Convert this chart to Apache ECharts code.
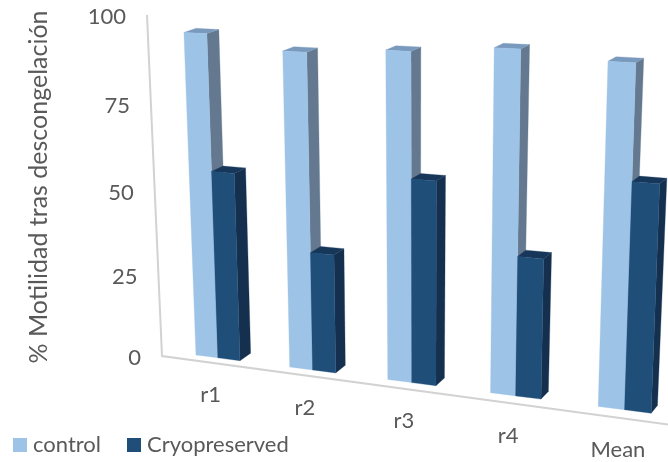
<!DOCTYPE html>
<html>
<head>
<meta charset="utf-8">
<script src="https://cdn.jsdelivr.net/npm/echarts@6/dist/echarts.min.js"></script>
<style>html,body{margin:0;padding:0;background:#fff}#chart{width:668px;height:462px}</style>
</head>
<body>
<div id="chart"></div>
<script>
// Thaw motility per replicate
const categories = ['r1', 'r2', 'r3', 'r4', 'Mean'];
const controlValues = [94.5, 90.8, 92.5, 94.6, 92.6];
const cryoValues = [55.5, 34.6, 58, 39.3, 62];
const valueTicks = [0, 25, 50, 75, 100];

// Flat plotting rectangle used by the axes; its points are then warped into perspective.
const GRID = { left: 162, top: 17, width: 500, height: 340 };
const BAR_FRACTION = 0.2375;
const FONT = 'Lato, "Open Sans", sans-serif';
const TEXT = '#595959';

// Perspective planes, corners ordered (0,0), (1,0), (1,1), (0,1) in flat unit space.
const AXIS_PLANE = [[162, 356], [672, 425], [691, 40], [147, 15]];
const FRONT_PLANE = [[172, 352], [681, 417], [697, 36], [158, 11.5]];
const BACK_PLANE = [[183.5, 344.6], [687, 409.2], [704.5, 31.6], [170.5, 7.6]];

function homography(q) {
  const [[x0, y0], [x1, y1], [x2, y2], [x3, y3]] = q;
  const dx1 = x1 - x2, dx2 = x3 - x2, sx = x0 - x1 + x2 - x3;
  const dy1 = y1 - y2, dy2 = y3 - y2, sy = y0 - y1 + y2 - y3;
  const den = dx1 * dy2 - dx2 * dy1;
  const g = (sx * dy2 - dx2 * sy) / den;
  const h = (dx1 * sy - sx * dy1) / den;
  const a = x1 - x0 + g * x1, b = x3 - x0 + h * x3;
  const d = y1 - y0 + g * y1, e = y3 - y0 + h * y3;
  return (s, t) => {
    const w = g * s + h * t + 1;
    return [(a * s + b * t + x0) / w, (d * s + e * t + y0) / w];
  };
}
const axisPlane = homography(AXIS_PLANE);
const frontPlane = homography(FRONT_PLANE);
const backPlane = homography(BACK_PLANE);

// Flat pixel position from the axes -> unit coordinates for the planes.
const toUnit = (p) => [(p[0] - GRID.left) / GRID.width, (GRID.top + GRID.height - p[1]) / GRID.height];
const onPlane = (plane, x, y) => { const u = toUnit([x, y]); return plane(u[0], u[1]); };

function poly(points, fill) {
  return { type: 'polygon', shape: { points }, style: { fill, stroke: fill, lineWidth: 0.3 }, silent: true };
}

// One 3D column: side and top faces first, front face last.
function columnRenderer(side, colors) {
  return (params, api) => {
    const i = api.value(0);
    const top = api.coord([i, api.value(1)]);
    const base = api.coord([i, 0]);
    const bw = api.size([1, 0])[0];
    const x0 = side < 0 ? top[0] - BAR_FRACTION * bw : top[0];
    const x1 = x0 + BAR_FRACTION * bw;
    const f = (x, y) => onPlane(frontPlane, x, y);
    const b = (x, y) => onPlane(backPlane, x, y);
    return {
      type: 'group',
      children: [
        poly([f(x1, top[1]), b(x1, top[1]), b(x1, base[1]), f(x1, base[1])], colors.side),
        poly([f(x0, top[1]), b(x0, top[1]), b(x1, top[1]), f(x1, top[1])], colors.top),
        poly([f(x0, top[1]), f(x1, top[1]), f(x1, base[1]), f(x0, base[1])], colors.front)
      ]
    };
  };
}

function label(p, text, align) {
  return {
    type: 'text', silent: true,
    style: { x: p[0], y: p[1], text, fill: TEXT, fontSize: 22, fontFamily: FONT, align, verticalAlign: 'middle' }
  };
}

const CONTROL = { front: '#9DC3E6', side: '#64798F', top: '#7A9ABD' };
const CRYO = { front: '#1F4E79', side: '#14304E', top: '#17375A' };

const option = {
  animation: false,
  backgroundColor: '#fff',
  textStyle: { fontFamily: FONT },
  grid: Object.assign({ containLabel: false }, GRID),
  legend: {
    data: ['control', 'Cryopreserved'],
    left: 13, top: 434, padding: 0, itemWidth: 14, itemHeight: 14, itemGap: 26, icon: 'rect',
    textStyle: { color: TEXT, fontSize: 22, fontFamily: FONT, padding: [0, 0, 0, 1] }
  },
  xAxis: {
    type: 'category', data: categories,
    axisLine: { show: false }, axisTick: { show: false }, axisLabel: { show: false }, splitLine: { show: false }
  },
  yAxis: {
    type: 'value', min: 0, max: 100, interval: 25,
    name: '% Motilidad tras descongelación', nameLocation: 'middle', nameGap: 111, nameRotate: 90,
    nameTextStyle: { color: TEXT, fontSize: 25, fontFamily: FONT },
    axisLine: { show: false }, axisTick: { show: false }, axisLabel: { show: false }, splitLine: { show: false }
  },
  series: [
    {
      name: 'frame', type: 'custom', silent: true, clip: false, z: 1,
      data: [[0, 0]],
      renderItem: () => {
        const origin = axisPlane(0, 0), end = axisPlane(1, 0), top = axisPlane(0, 1);
        const style = { stroke: '#D2D2D2', lineWidth: 2, fill: null };
        return { type: 'polyline', shape: { points: [top, origin, end] }, style };
      }
    },
    {
      name: 'control', type: 'custom', clip: false, z: 2, itemStyle: { color: CONTROL.front },
      data: controlValues.map((v, i) => [i, v]),
      renderItem: columnRenderer(-1, CONTROL)
    },
    {
      name: 'Cryopreserved', type: 'custom', clip: false, z: 3, itemStyle: { color: CRYO.front },
      data: cryoValues.map((v, i) => [i, v]),
      renderItem: columnRenderer(1, CRYO)
    },
    {
      name: 'valueLabels', type: 'custom', silent: true, clip: false, z: 4,
      data: valueTicks.map((v) => [0, v]),
      renderItem: (params, api) => {
        const v = api.value(1);
        const flat = api.coord([0, v]);
        const p = onPlane(axisPlane, GRID.left, flat[1]);
        return label([p[0] - 21, p[1] + 2], String(v), 'right');
      }
    },
    {
      name: 'categoryLabels', type: 'custom', silent: true, clip: false, z: 4,
      data: categories.map((c, i) => [i, 0]),
      renderItem: (params, api) => {
        const i = api.value(0);
        const flat = api.coord([i, 0]);
        const p = onPlane(axisPlane, flat[0], flat[1]);
        return label([p[0] + 3, p[1] + 33], categories[i], 'center');
      }
    }
  ]
};

echarts.init(document.getElementById('chart'), null, { renderer: 'canvas' }).setOption(option);
</script>
</body>
</html>
